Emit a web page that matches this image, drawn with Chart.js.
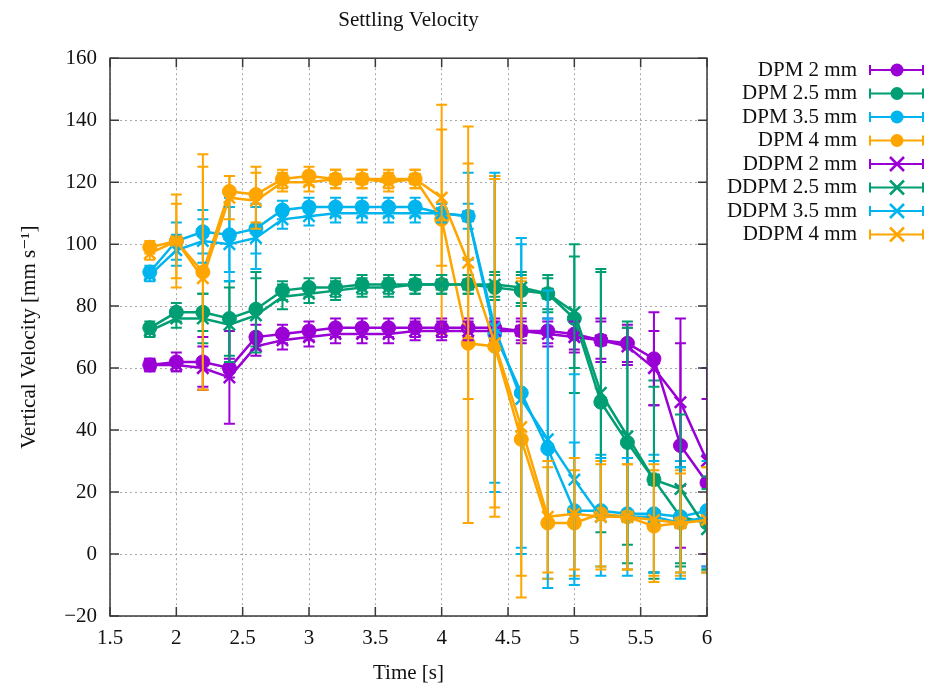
<!DOCTYPE html>
<html>
<head>
<meta charset="utf-8">
<script src="https://cdn.jsdelivr.net/npm/chart.js@4"></script>
<style>
  body { margin: 0; background: #fff; }
  #wrap { width: 933px; height: 690px; }
</style>
</head>
<body>
<div id="wrap"><canvas id="lineChart" width="933" height="690"></canvas></div>
<script>
// time axis [s]
const times = [1.8, 2.0, 2.2, 2.4, 2.6, 2.8, 3.0, 3.2, 3.4, 3.6, 3.8, 4.0, 4.2, 4.4, 4.6, 4.8, 5.0, 5.2, 5.4, 5.6, 5.8, 6.0];

// vertical velocity [mm/s] and error (+/-)
const dpm2 = [61, 62, 62, 60, 70, 71, 72, 73, 73, 73, 73, 73, 73, 73, 72, 72, 71, 69, 68, 63, 35, 23];
const dpm2Err = [2, 3, 8, 3, 4, 3, 3, 3, 3, 3, 3, 3, 3, 3, 3, 4, 5, 7, 6, 15, 33, 27];
const dpm25 = [73, 78, 78, 76, 79, 85, 86, 86, 87, 87, 87, 87, 87, 86, 85, 84, 76, 49, 36, 24, 12, 10];
const dpm25Err = [2, 3, 6, 12, 12, 3, 3, 3, 3, 3, 3, 3, 3, 4, 5, 5, 24, 42, 39, 32, 16, 15];
const dpm35 = [91, 101, 104, 103, 105, 111, 112, 112, 112, 112, 112, 110, 109, 71, 52, 34, 14, 14, 13, 13, 12, 14];
const dpm35Err = [2, 6, 7, 12, 8, 3, 3, 3, 3, 3, 3, 3, 4, 51, 50, 42, 22, 18, 18, 19, 18, 18];
const dpm4 = [99, 101, 91, 117, 116, 121, 122, 121, 121, 121, 121, 108, 68, 67, 37, 10, 10, 13, 12, 9, 10, 11];
const dpm4Err = [2, 15, 38, 5, 9, 3, 3, 3, 3, 3, 3, 37, 58, 55, 51, 18, 17, 17, 17, 18, 17, 17];
const ddpm2 = [61, 61, 60, 57, 67, 69, 70, 71, 71, 71, 72, 72, 72, 72, 72, 71, 70, 69, 67, 60, 49, 30];
const ddpm2Err = [2, 2, 7, 15, 3, 3, 3, 3, 3, 3, 3, 3, 3, 3, 4, 4, 5, 6, 6, 12, 27, 30];
const ddpm25 = [72, 76, 76, 74, 77, 83, 84, 85, 86, 86, 87, 87, 87, 87, 86, 84, 78, 52, 38, 24, 21, 8];
const ddpm25Err = [2, 3, 8, 12, 12, 4, 3, 3, 3, 3, 3, 3, 3, 4, 5, 6, 18, 40, 35, 30, 24, 13];
const ddpm35 = [90, 98, 101, 100, 102, 108, 109, 110, 110, 110, 110, 110, 109, 73, 50, 37, 24, 12, 12, 12, 10, 12];
const ddpm35Err = [2, 5, 7, 12, 10, 3, 3, 3, 3, 3, 3, 3, 14, 50, 50, 48, 34, 19, 19, 18, 18, 18];
const ddpm4 = [97, 101, 89, 115, 114, 120, 120, 121, 121, 120, 121, 115, 94, 68, 41, 12, 13, 12, 12, 11, 10, 11];
const ddpm4Err = [2, 12, 36, 7, 9, 3, 3, 3, 3, 3, 3, 22, 44, 53, 48, 18, 18, 17, 17, 18, 16, 17];

const seriesNames = ['DPM 2 mm', 'DPM 2.5 mm', 'DPM 3.5 mm', 'DPM 4 mm', 'DDPM 2 mm', 'DDPM 2.5 mm', 'DDPM 3.5 mm', 'DDPM 4 mm'];
const seriesValues = [dpm2, dpm25, dpm35, dpm4, ddpm2, ddpm25, ddpm35, ddpm4];
const seriesErrors = [dpm2Err, dpm25Err, dpm35Err, dpm4Err, ddpm2Err, ddpm25Err, ddpm35Err, ddpm4Err];

const xTicks = [1.5, 2, 2.5, 3, 3.5, 4, 4.5, 5, 5.5, 6];
const yTicks = [-20, 0, 20, 40, 60, 80, 100, 120, 140, 160];

const colors = ['#9a00d6', '#009e73', '#00b4ee', '#ffa500'];
const serif = '"Liberation Serif", "DejaVu Serif", serif';

// error bars drawn under each dataset's line
const errorBars = {
  id: 'errorBars',
  beforeDatasetDraw(chart, args) {
    const ds = chart.data.datasets[args.index];
    const { ctx, chartArea, scales } = chart;
    ctx.save();
    ctx.beginPath();
    ctx.rect(chartArea.left, chartArea.top, chartArea.right - chartArea.left, chartArea.bottom - chartArea.top);
    ctx.clip();
    ctx.strokeStyle = ds.borderColor;
    ctx.lineWidth = 2;
    ds.data.forEach((p, i) => {
      const x = scales.x.getPixelForValue(p.x);
      const y1 = scales.y.getPixelForValue(p.y + ds.errors[i]);
      const y2 = scales.y.getPixelForValue(p.y - ds.errors[i]);
      ctx.beginPath();
      ctx.moveTo(x, y1); ctx.lineTo(x, y2);
      ctx.moveTo(x - 5.5, y1); ctx.lineTo(x + 5.5, y1);
      ctx.moveTo(x - 5.5, y2); ctx.lineTo(x + 5.5, y2);
      ctx.stroke();
    });
    ctx.restore();
  }
};

// box, inward ticks and the gnuplot-like key
const frameAndKey = {
  id: 'frameAndKey',
  afterDraw(chart) {
    const { ctx, chartArea: a, scales } = chart;
    ctx.save();
    ctx.strokeStyle = '#3a3a3a';
    ctx.lineWidth = 1.5;
    ctx.beginPath();
    yTicks.forEach(v => {
      const y = scales.y.getPixelForValue(v);
      ctx.moveTo(a.left, y); ctx.lineTo(a.left + 9, y);
      ctx.moveTo(a.right, y); ctx.lineTo(a.right - 9, y);
    });
    xTicks.forEach(v => {
      const x = scales.x.getPixelForValue(v);
      ctx.moveTo(x, a.bottom); ctx.lineTo(x, a.bottom - 9);
      ctx.moveTo(x, a.top); ctx.lineTo(x, a.top + 9);
    });
    ctx.stroke();
    ctx.strokeRect(a.left, a.top, a.right - a.left, a.bottom - a.top);

    ctx.font = '21px ' + serif;
    ctx.textAlign = 'right';
    ctx.textBaseline = 'middle';
    chart.data.datasets.forEach((ds, i) => {
      const y = 70 + i * 23.5;
      ctx.fillStyle = '#111';
      ctx.fillText(ds.label, 857, y);
      ctx.strokeStyle = ds.borderColor;
      ctx.lineWidth = 2;
      ctx.beginPath();
      ctx.moveTo(870, y); ctx.lineTo(923, y);
      ctx.moveTo(870, y - 5); ctx.lineTo(870, y + 5);
      ctx.moveTo(923, y - 5); ctx.lineTo(923, y + 5);
      ctx.stroke();
      if (ds.pointStyle === 'circle') {
        ctx.fillStyle = ds.borderColor;
        ctx.beginPath();
        ctx.arc(897, y, 6.5, 0, Math.PI * 2);
        ctx.fill();
      } else {
        ctx.lineWidth = 2.5;
        ctx.beginPath();
        ctx.moveTo(890, y - 7); ctx.lineTo(904, y + 7);
        ctx.moveTo(890, y + 7); ctx.lineTo(904, y - 7);
        ctx.stroke();
      }
    });
    ctx.restore();
  }
};

document.addEventListener('DOMContentLoaded', () => {
  const datasets = seriesNames.map((name, i) => ({
    label: name,
    data: times.map((t, j) => ({ x: t, y: seriesValues[i][j] })),
    errors: seriesErrors[i],
    borderColor: colors[i % 4],
    backgroundColor: colors[i % 4],
    borderWidth: 2.5,
    pointStyle: i < 4 ? 'circle' : 'crossRot',
    pointRadius: i < 4 ? 7 : 8,
    pointBorderWidth: i < 4 ? 1 : 2.5,
    order: 8 - i
  }));

  new Chart(document.getElementById('lineChart'), {
    type: 'line',
    data: { datasets },
    options: {
      responsive: false,
      animation: false,
      layout: { padding: { left: 0, right: 226, top: 0, bottom: 0 } },
      plugins: {
        legend: { display: false },
        tooltip: { enabled: false },
        title: {
          display: true,
          text: 'Settling Velocity',
          fullSize: false,
          color: '#111',
          font: { family: serif, size: 21, weight: 'normal' },
          padding: { top: 8, bottom: 25 }
        }
      },
      scales: {
        x: {
          type: 'linear',
          min: 1.5,
          max: 6,
          afterFit(s) { s.height = 74; },
          afterBuildTicks(s) { s.ticks = xTicks.map(v => ({ value: v })); },
          ticks: { color: '#111', padding: 10, font: { family: serif, size: 21 }, callback: v => String(v) },
          grid: { color: '#a8a8a8', lineWidth: 1, drawTicks: false },
          border: { display: false, dash: [2, 3] },
          title: { display: true, text: 'Time [s]', color: '#111', font: { family: serif, size: 21 }, padding: { top: 0, bottom: 4 } }
        },
        y: {
          min: -20,
          max: 160,
          afterFit(s) { s.width = 110; },
          afterBuildTicks(s) { s.ticks = yTicks.map(v => ({ value: v })); },
          ticks: { color: '#111', padding: 13, font: { family: serif, size: 21 }, callback: v => String(v).replace('-', '\u2212') },
          grid: { color: '#a8a8a8', lineWidth: 1, drawTicks: false },
          border: { display: false, dash: [2, 3] },
          title: { display: true, text: 'Vertical Velocity [mm s\u207B\u00B9]', color: '#111', font: { family: serif, size: 21 }, padding: { top: 17, bottom: 0 } }
        }
      }
    },
    plugins: [errorBars, frameAndKey]
  });
});
</script>
</body>
</html>
